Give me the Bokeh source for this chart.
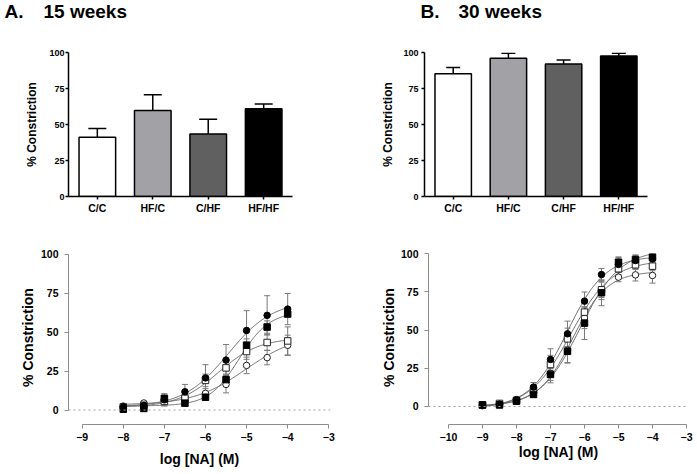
import numpy as np
from bokeh.plotting import figure
from bokeh.layouts import column, row
from bokeh.models import ColumnDataSource, FixedTicker, Span, Whisker, TeeHead, Range1d
from bokeh.core.properties import value
from bokeh.embed import file_html
from bokeh.resources import INLINE

FONT = "Liberation Sans"

# ---------------- data ----------------
panel_letters = ["A.", "B."]
panel_titles = ["15 weeks", "30 weeks"]

groups = ["C/C", "HF/C", "C/HF", "HF/HF"]
bar_colors = ["#ffffff", "#a2a2a6", "#606060", "#000000"]
wk15_mean = [41.2, 59.7, 43.4, 60.9]
wk15_sem = [6.1, 10.9, 10.2, 3.4]
wk30_mean = [85.2, 96.0, 92.0, 97.6]
wk30_sem = [4.3, 3.4, 2.8, 1.8]

# 15 weeks concentration-response
logNA_15 = [-8.0, -7.5, -7.0, -6.5, -6.0, -5.5, -5.0, -4.5, -4.0]
c15_fc = [2.0, 3.0, 6.5, 11.7, 20.6, 32.0, 51.0, 60.7, 64.7]
c15_fc_err = [0.5, 1.0, 4.0, 4.7, 8.5, 10.0, 12.7, 12.6, 10.0]
c15_fs = [0.5, 1.0, 7.5, 4.4, 8.2, 19.5, 41.6, 53.2, 61.6]
c15_fs_err = [0.5, 0.5, 1.5, 1.5, 2.0, 3.0, 4.0, 4.0, 2.0]
c15_os = [2.0, 3.0, 5.5, 7.5, 19.0, 27.0, 37.5, 43.3, 44.3]
c15_os_err = [0.5, 1.0, 2.0, 3.0, 4.0, 4.0, 5.0, 5.0, 9.0]
c15_oc = [2.5, 4.5, 6.0, 8.0, 10.7, 16.4, 28.6, 33.6, 41.5]
c15_oc_err = [0.5, 1.0, 1.5, 2.0, 3.0, 5.4, 5.3, 4.6, 6.5]

# 30 weeks concentration-response
logNA_30 = [-9.0, -8.5, -8.0, -7.5, -7.0, -6.5, -6.0, -5.5, -5.0, -4.5, -4.0]
c30_fc = [1.0, 1.5, 4.5, 12.7, 30.8, 47.6, 69.0, 86.4, 93.0, 95.6, 96.7]
c30_fc_err = [0.5, 1.0, 1.5, 3.0, 7.0, 8.3, 6.0, 4.0, 5.0, 3.0, 2.0]
c30_fs = [1.0, 1.0, 3.5, 7.9, 21.0, 36.2, 54.6, 74.5, 94.5, 96.3, 97.8]
c30_fs_err = [0.5, 0.5, 1.0, 2.0, 4.0, 7.8, 10.7, 8.5, 3.0, 3.0, 1.5]
c30_os = [1.0, 2.0, 4.0, 10.5, 27.5, 44.3, 61.8, 76.4, 90.2, 92.8, 91.9]
c30_os_err = [0.5, 1.0, 1.5, 3.0, 6.0, 7.0, 6.0, 5.0, 4.0, 3.0, 3.0]
c30_oc = [0.5, 1.5, 3.5, 9.0, 21.5, 36.8, 58.0, 76.0, 84.7, 86.2, 85.8]
c30_oc_err = [0.5, 1.0, 1.5, 2.0, 6.0, 8.0, 7.0, 6.0, 3.0, 4.0, 5.0]

y_ticks = [0, 25, 50, 75, 100]


def fit_curve(x, y, ec_lo, ec_hi):
    """Least-squares sigmoidal (variable slope) fit of the read values."""
    x = np.asarray(x, float)
    y = np.asarray(y, float)
    hills = np.arange(0.4, 1.61, 0.01)
    ecs = np.arange(ec_lo, ec_hi + 0.001, 0.01)
    H, E = np.meshgrid(hills, ecs, indexing="ij")
    F = 1.0 / (1.0 + 10 ** (H[..., None] * (E[..., None] - x)))
    n = len(x)
    Sf = F.sum(-1)
    Sff = (F * F).sum(-1)
    Sy = y.sum()
    Sfy = (F * y).sum(-1)
    det = n * Sff - Sf ** 2
    s = (n * Sfy - Sf * Sy) / det
    b = (Sy - s * Sf) / n
    resid = ((b[..., None] + s[..., None] * F - y) ** 2).sum(-1)
    i = np.unravel_index(np.nanargmin(resid), resid.shape)
    return H[i], E[i], b[i], s[i]


def curve(x, y, xmin, xmax, ec_lo, ec_hi):
    h, e, b, s = fit_curve(x, y, ec_lo, ec_hi)
    xs = np.linspace(xmin, xmax, 200)
    ys = b + s / (1.0 + 10 ** (h * (e - xs)))
    return xs, ys


def style_axes(p, ytick_size, xtick_size, ylab_size, xlab_size, axis_color, axis_w, tick_out):
    for ax in (p.xaxis[0], p.yaxis[0]):
        ax.axis_line_color = axis_color
        ax.axis_line_width = axis_w
        ax.major_tick_line_color = axis_color
        ax.major_tick_line_width = axis_w
        ax.major_tick_out = tick_out
        ax.major_tick_in = 0
        ax.minor_tick_line_color = None
        ax.major_label_text_font = FONT
        ax.major_label_text_font_style = "bold"
        ax.major_label_text_color = "black"
        ax.axis_label_text_font = FONT
        ax.axis_label_text_font_style = "bold"
        ax.axis_label_text_color = "black"
    p.yaxis[0].major_label_text_font_size = ytick_size
    p.xaxis[0].major_label_text_font_size = xtick_size
    p.yaxis[0].axis_label_text_font_size = ylab_size
    p.xaxis[0].axis_label_text_font_size = xlab_size
    p.xgrid.grid_line_color = None
    p.ygrid.grid_line_color = None
    p.outline_line_color = None


def make_fig(w, h, left, right, top, bottom, xr, yr):
    p = figure(width=w, height=h, x_range=Range1d(*xr), y_range=Range1d(*yr),
               title=None, output_backend="svg", toolbar_location=None,
               min_border_left=left, min_border_right=right,
               min_border_top=top, min_border_bottom=bottom)
    p.background_fill_color = "white"
    p.border_fill_color = "white"
    return p


def bar_panel(w, h, left, right, top, bottom, means, sems, cap, lab_standoff, axlab_standoff):
    xr = (0.48, 4.52)
    yr = (0, 100)
    p = make_fig(w, h, left, right, top, bottom, xr, yr)
    xs = [1, 2, 3, 4]
    src = ColumnDataSource(dict(x=xs, top=means, color=bar_colors,
                                lo=means, hi=[m + s for m, s in zip(means, sems)]))
    p.add_layout(Whisker(base="x", lower="lo", upper="hi", source=src,
                         line_color="black", line_width=1.5,
                         upper_head=TeeHead(size=cap, line_color="black", line_width=1.5),
                         lower_head=None))
    p.vbar(x="x", top="top", bottom=0, width=0.66, fill_color="color",
           line_color="black", line_width=1.5, source=src)
    style_axes(p, "9px", "10.5px", "12px", "12px", "black", 1.5, 3)
    p.xaxis[0].ticker = FixedTicker(ticks=xs)
    p.xaxis[0].major_label_overrides = {i + 1: g for i, g in enumerate(groups)}
    p.xaxis[0].major_label_standoff = 2
    p.yaxis[0].ticker = FixedTicker(ticks=y_ticks)
    p.yaxis[0].axis_label = "% Constriction"
    p.yaxis[0].major_label_standoff = lab_standoff
    p.yaxis[0].axis_label_standoff = axlab_standoff
    return p


def crc_panel(w, h, left, right, top, bottom, xr, yr, xbounds, xticks, xvals, series,
              cap, xlab_standoff, ylab_standoff, ec_hi):
    p = make_fig(w, h, left, right, top, bottom, xr, yr)
    p.add_layout(Span(location=0, dimension="width", line_color="#a0a0a0",
                      line_width=1, line_dash="2 3"))
    for yv, ev, mk, fill in series:
        cx, cy = curve(xvals, yv, xvals[0], xvals[-1], -8.5, ec_hi)
        p.line(cx, cy, line_color="#6a6a6a", line_width=1)
    for yv, ev, mk, fill in series:
        src = ColumnDataSource(dict(x=xvals, lo=[a - b for a, b in zip(yv, ev)],
                                    hi=[a + b for a, b in zip(yv, ev)]))
        p.add_layout(Whisker(base="x", lower="lo", upper="hi", source=src,
                             line_color="#7a7a7a", line_width=1,
                             upper_head=TeeHead(size=cap, line_color="#7a7a7a", line_width=1),
                             lower_head=TeeHead(size=cap, line_color="#7a7a7a", line_width=1)))
    for yv, ev, mk, fill in series:
        p.scatter(xvals, yv, marker=mk, size=6.5, fill_color=fill,
                  line_color="#222222" if fill == "white" else "black", line_width=1)
    style_axes(p, "10.5px", "10.5px", "14px", "14px", "#8c8c8c", 1, 4)
    p.xaxis[0].bounds = xbounds
    p.yaxis[0].bounds = (0, 100)
    p.xaxis[0].ticker = FixedTicker(ticks=xticks)
    p.yaxis[0].ticker = FixedTicker(ticks=y_ticks)
    p.xaxis[0].axis_label = "log [NA] (M)"
    p.yaxis[0].axis_label = "% Constriction"
    p.xaxis[0].major_label_standoff = 4
    p.xaxis[0].axis_label_standoff = xlab_standoff
    p.yaxis[0].major_label_standoff = 6
    p.yaxis[0].axis_label_standoff = ylab_standoff
    return p


# ---------- title strip ----------
W_TOTAL = 697
H_TITLE = 40
pt = figure(width=W_TOTAL, height=H_TITLE, x_range=Range1d(0, W_TOTAL), y_range=Range1d(0, H_TITLE),
            title=None, output_backend="svg", toolbar_location=None,
            min_border_left=0, min_border_right=0, min_border_top=0, min_border_bottom=0)
pt.axis.visible = False
pt.xgrid.grid_line_color = None
pt.ygrid.grid_line_color = None
pt.outline_line_color = None
title_src = ColumnDataSource(dict(
    x=[4, 43, 420, 458],
    y=[H_TITLE - 11] * 4,
    text=[panel_letters[0], panel_titles[0], panel_letters[1], panel_titles[1]],
))
pt.text(x="x", y="y", text="text", source=title_src, text_font=value(FONT),
        text_font_style="bold", text_font_size=value("19px"),
        text_baseline="middle", text_align="left", text_color="black")

# ---------- panels ----------
p1 = bar_panel(350, 190, 68, 58, 8, 34, wk15_mean, wk15_sem, 18, 1, 7)
p2 = bar_panel(347, 190, 74, 50, 12, 30, wk30_mean, wk30_sem, 14, 3, 5)

series15 = [
    (c15_oc, c15_oc_err, "circle", "white"),
    (c15_os, c15_os_err, "square", "white"),
    (c15_fs, c15_fs_err, "square", "black"),
    (c15_fc, c15_fc_err, "circle", "black"),
]
series30 = [
    (c30_oc, c30_oc_err, "circle", "white"),
    (c30_os, c30_os_err, "square", "white"),
    (c30_fs, c30_fs_err, "square", "black"),
    (c30_fc, c30_fc_err, "circle", "black"),
]

p3 = crc_panel(350, 244, 68, 20, 18, 49, (-9.333, -2.958), (-9.3, 102.3),
               (-9, -3), list(range(-9, -2)), logNA_15, series15, 6, 7, 2, -3.5)
p4 = crc_panel(347, 244, 78, 9, 20, 50, (-10.588, -2.941), (-11.79, 102.16),
               (-10, -3), list(range(-10, -2)), logNA_30, series30, 6, 0, 1, -4.5)

layout = column(pt, row(p1, p2), row(p3, p4))

open("out.html", "w").write(file_html(layout, INLINE))
